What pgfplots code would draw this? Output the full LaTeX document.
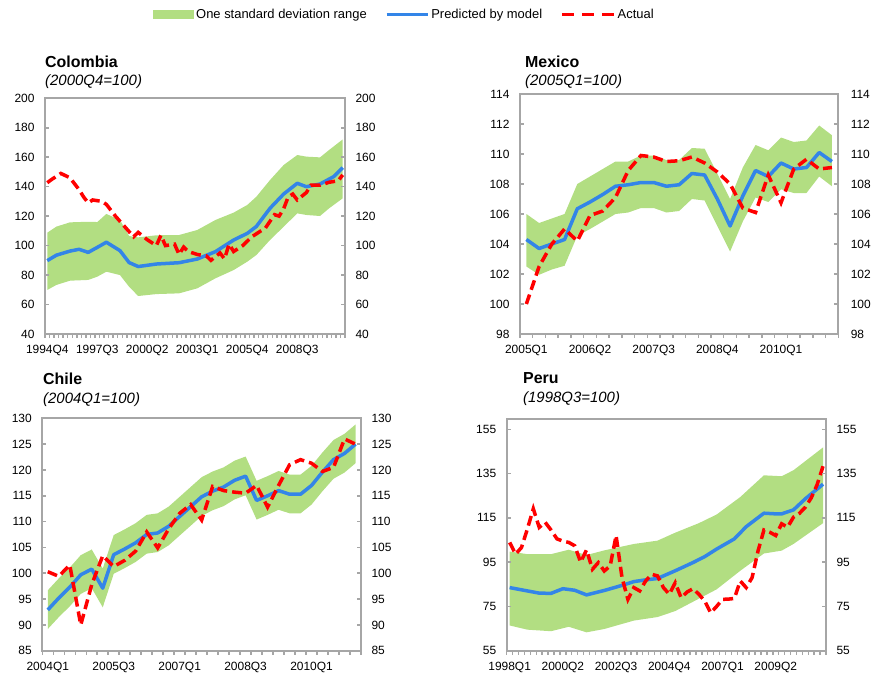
\documentclass[border=0pt]{standalone}
\usepackage{fontspec}
\setmainfont{Liberation Sans}
\usepackage{pgfplots}
\pgfplotsset{compat=1.18}
\usepackage{pgfplotstable}
\definecolor{bandgreen}{RGB}{178,222,130}
\definecolor{predblue}{RGB}{51,133,232}
\definecolor{actred}{RGB}{255,0,0}
\definecolor{framegray}{RGB}{166,166,166}

\pgfplotsset{
  base/.style={scale only axis, clip=true,
    axis line style={framegray, line width=2bp},
    tick style={framegray, line width=1.5bp},
    /pgf/number format/assume math mode=true,
    tick label style={font=\fontsize{12}{12}\selectfont, text=black},
  },
  mainax/.style={base,
    tick align=outside, major tick length=0pt, minor tick length=4bp,
    xtick pos=left, ytick pos=left,
    yticklabel style={xshift=-7bp},
    xticklabel style={yshift=-8bp},
  },
  rightax/.style={base, hide x axis,
    tick align=inside, major tick length=4bp,
    ytick pos=both, yticklabel pos=right,
    yticklabel style={xshift=7bp},
  },
  band/.style={fill=bandgreen, draw=none},
  pred/.style={predblue, line width=3.5bp, line join=round},
  act/.style={actred, line width=3.5bp, dash pattern=on 10bp off 5bp},
  legband/.style={legend image code/.code={\fill[bandgreen] (0bp,-4.5bp) rectangle (41bp,4.5bp);}},
  legpred/.style={legend image code/.code={\draw[predblue, line width=3.5bp] (0bp,0bp) -- (41bp,0bp);}},
  legact/.style={legend image code/.code={\draw[actred, line width=3.5bp, dash pattern=on 12bp off 8bp] (0bp,0bp) -- (52bp,0bp);}},
}

% ---------------- Colombia ----------------
\pgfplotstableread{
i p
0 89.8
2 93.5
5 96.3
7 97.5
9 95.4
11 98.8
13 102.3
16 96.6
18 88.5
20 85.8
24 87.5
29 88.4
33 90.9
37 95.9
41 103.8
44 108.3
46 113.0
49 125.3
52 135.0
55 142.3
57 140.0
60 141.8
63 146.8
65 152.9
}\colpred
% band: upper edge left to right, then lower edge right to left
\pgfplotstableread{
i b
0 108.8
2 112.9
5 115.8
9 116.2
11 116.0
13 121.5
16 117.4
18 106.5
20 105.6
24 107.0
29 107.2
33 110.6
37 117.4
41 122.4
44 127.6
46 133.2
49 144.5
52 154.7
55 161.5
57 160.4
60 159.9
62 164.9
65 172.1
65 132.1
62 125.3
60 120.1
57 120.8
55 121.9
52 112.8
49 103.8
46 93.6
44 89.1
41 83.4
37 77.8
33 71.0
29 67.6
24 67.1
20 65.8
18 72.1
16 80.0
13 82.3
11 78.9
9 76.7
5 76.2
2 73.3
0 69.9
}\colband
\pgfplotstableread{
i a
0 142.7
1 145
3 149
5 146
7 138
8 133
9 129
10 131
12 130
13 128
15 120
17 113
19 106
20 109
22 104
23 102
24 100
25 107
26 100
28 101
29 94
30 99
31 96
33 94
35 93
36 90
38 95
39 91
40 101
41 96
43 100
45 106
47 110
48 112
50 121
51 120
52 125
53 133
54 135
55 131
57 136
58 141
60 141
62 143
64 144
65 148
}\colact

% ---------------- Mexico ----------------
\pgfplotstableread{
i p a
0 104.3 100.0
1 103.7 102.5
2 104.0 104.0
3 104.3 105.0
4 106.35 104.2
5 106.8 105.9
6 107.3 106.2
7 107.85 107.1
8 107.95 108.9
9 108.1 109.9
10 108.1 109.8
11 107.85 109.5
12 107.95 109.55
13 108.7 109.8
14 108.6 109.4
15 107.0 108.8
16 105.2 108.0
17 107.2 106.4
18 108.9 106.1
19 108.5 108.6
20 109.4 106.75
21 109.0 109.0
22 109.1 109.65
23 110.1 109.0
24 109.5 109.1
}\mex
\pgfplotstableread{
i b
0 106.0
1 105.4
2 105.7
3 106.0
4 108.0
5 108.5
6 109.0
7 109.5
8 109.5
9 109.9
10 109.9
11 109.6
12 109.6
13 110.4
14 110.35
15 108.7
16 107.0
17 109.1
18 110.6
19 110.25
20 111.1
21 110.8
22 110.9
23 111.9
24 111.25
24 107.85
23 108.5
22 107.4
21 107.4
20 107.65
19 106.8
18 107.1
17 105.5
16 103.5
15 105.2
14 106.9
13 107.0
12 106.2
11 106.1
10 106.4
9 106.4
8 106.1
7 106.0
6 105.5
5 105.0
4 104.55
3 102.55
2 102.3
1 101.95
0 102.5
}\mexband

% ---------------- Chile ----------------
\pgfplotstableread{
i p a
0 92.9 100.3
1 95.2 99.4
2 97.3 101.6
3 99.7 90.0
4 100.8 97.8
5 97.1 103.4
6 103.6 101.3
7 104.7 102.5
8 105.9 104.3
9 107.5 108.0
10 107.8 104.9
11 109.1 108.6
12 111.0 111.6
13 112.9 113.3
14 114.8 110.3
15 115.9 116.8
16 116.7 116.0
17 118.0 115.7
18 118.8 115.5
19 114.1 117.0
20 115.0 112.8
21 116.0 117.0
22 115.3 121.0
23 115.3 122.0
24 117.0 121.3
25 119.6 119.7
26 122.0 120.5
27 123.2 126.0
28 125.0 125.0
}\chl
\pgfplotstableread{
i b
0 96.7
1 99.0
2 101.1
3 103.5
4 104.6
5 100.9
6 107.4
7 108.5
8 109.7
9 111.3
10 111.6
11 112.9
12 114.8
13 116.7
14 118.6
15 119.7
16 120.5
17 121.8
18 122.6
19 117.9
20 118.8
21 119.8
22 119.1
23 119.1
24 120.8
25 123.4
26 125.8
27 127.0
28 128.8
28 121.3
27 119.5
26 118.3
25 115.9
24 113.3
23 111.6
22 111.6
21 112.3
20 111.3
19 110.4
18 115.1
17 114.3
16 113.0
15 112.2
14 111.1
13 109.2
12 107.3
11 105.4
10 104.1
9 103.8
8 102.2
7 101.0
6 99.9
5 93.4
4 97.1
3 96.0
2 93.6
1 91.5
0 89.2
}\chlband

% ---------------- Peru ----------------
\pgfplotstableread{
i p
0 83.5
3 82.0
5 81.0
7 80.9
9 83.0
11 82.3
13 80.2
16 82.2
19 84.5
21 86.2
23 87.0
25 87.6
28 91.1
31 94.8
33 97.5
35 100.9
38 105.5
40 111.0
43 117.1
45 116.8
46 116.8
48 118.6
50 123.6
53 130.2
}\perpred
\pgfplotstableread{
i b
0 99.8
3 98.6
7 98.6
10 100.6
13 98.2
16 100.3
21 103.2
25 104.7
28 108.3
32 112.6
35 116.5
39 124.4
43 134.2
46 133.8
48 136.5
53 146.8
53 112.6
48 103.2
46 100.2
43 98.9
39 91.1
35 82.7
32 78.5
28 72.9
25 70.2
21 68.6
16 64.8
13 63.3
10 65.8
7 63.8
3 64.5
0 66.4
}\perband
\pgfplotstableread{
i a
0 103.9
1 98.6
2 101.6
3 110.0
4 119.1
5 110.7
6 113.0
7 109.5
8 105.5
9 104.5
10 103.9
11 102.4
12 95.0
13 100.5
14 91.8
15 94.8
16 91.0
17 93.3
18 107.0
19 88.0
20 78.2
21 83.5
22 82.0
23 86.5
24 89.5
25 88.8
26 83.5
27 80.5
28 85.7
29 78.9
30 81.5
31 83.0
32 80.5
33 77.4
34 72.1
35 75.0
36 78.2
37 78.3
38 78.6
39 86.5
40 83.5
41 88.0
42 100.0
43 109.5
44 108.5
45 107.0
46 112.3
47 110.8
48 115.3
49 117.0
50 119.8
51 124.0
52 130.0
53 138.3
}\peract

\begin{document}
\begin{tikzpicture}
\useasboundingbox (0bp,0bp) rectangle (875bp,-677bp);

% ---------- Colombia ----------
\begin{axis}[mainax, at={(45bp,-334bp)}, anchor=south west,
  width=300bp, height=235.7bp,
  xmin=-0.5, xmax=65.5, ymin=40, ymax=200, ytick={40,60,...,200},
  xtick={0,11,22,33,44,55},
  xticklabels={1994Q4,1997Q3,2000Q2,2003Q1,2005Q4,2008Q3},
  minor xtick={-0.5,0.5,...,65.5},
  legend columns=3,
  legend style={draw=none, fill=none, at={(0.36,1.355)}, anchor=west,
    font=\fontsize{13}{13}\selectfont, inner sep=0pt,
    /tikz/every even column/.append style={column sep=16bp}},
  legend cell align=left]
\addplot[band, legband] table[x=i,y=b] {\colband};
\addlegendentry{One standard deviation range}
\addplot[pred, legpred] table[x=i,y=p] {\colpred};
\addlegendentry{Predicted by model}
\addplot[act, legact] table[x=i,y=a] {\colact};
\addlegendentry{Actual}
\end{axis}
\begin{axis}[rightax, at={(45bp,-334bp)}, anchor=south west,
  width=300bp, height=235.7bp,
  xmin=-0.5, xmax=65.5, ymin=40, ymax=200, ytick={40,60,...,200}]
\addplot[draw=none] table[x=i,y=p] {\colpred};
\end{axis}
\node[anchor=base west, inner sep=0, font=\fontsize{16}{16}\selectfont\bfseries] at (45bp,-67.5bp) {Colombia};
\node[anchor=base west, inner sep=0, font=\fontsize{15}{15}\selectfont\itshape] at (45bp,-85bp) {(2000Q4=100)};

% ---------- Mexico ----------
\begin{axis}[mainax, at={(520bp,-334bp)}, anchor=south west,
  width=318.3bp, height=240bp,
  xmin=-0.5, xmax=24.5, ymin=98, ymax=114, ytick={98,100,...,114},
  xtick={0,5,10,15,20},
  xticklabels={2005Q1,2006Q2,2007Q3,2008Q4,2010Q1},
  minor xtick={-0.5,0.5,...,24.5}]
\addplot[band] table[x=i,y=b] {\mexband};
\addplot[pred] table[x=i,y=p] {\mex};
\addplot[act] table[x=i,y=a] {\mex};
\end{axis}
\begin{axis}[rightax, at={(520bp,-334bp)}, anchor=south west,
  width=318.3bp, height=240bp,
  xmin=-0.5, xmax=24.5, ymin=98, ymax=114, ytick={98,100,...,114},
  yticklabel style={xshift=2bp}]
\addplot[draw=none] table[x=i,y=p] {\mex};
\end{axis}
\node[anchor=base west, inner sep=0, font=\fontsize{16}{16}\selectfont\bfseries] at (525bp,-67.5bp) {Mexico};
\node[anchor=base west, inner sep=0, font=\fontsize{15}{15}\selectfont\itshape] at (525bp,-85bp) {(2005Q1=100)};

% ---------- Chile ----------
\begin{axis}[mainax, at={(42.3bp,-650.7bp)}, anchor=south west,
  width=318.7bp, height=232.4bp,
  xmin=-0.5, xmax=28.5, ymin=85, ymax=130, ytick={85,90,...,130},
  xtick={0,6,12,18,24},
  xticklabels={2004Q1,2005Q3,2007Q1,2008Q3,2010Q1},
  minor xtick={-0.5,0.5,...,28.5}]
\addplot[band] table[x=i,y=b] {\chlband};
\addplot[pred] table[x=i,y=p] {\chl};
\addplot[act] table[x=i,y=a] {\chl};
\end{axis}
\begin{axis}[rightax, at={(42.3bp,-650.7bp)}, anchor=south west,
  width=318.7bp, height=232.4bp,
  xmin=-0.5, xmax=28.5, ymin=85, ymax=130, ytick={85,90,...,130}]
\addplot[draw=none] table[x=i,y=p] {\chl};
\end{axis}
\node[anchor=base west, inner sep=0, font=\fontsize{16}{16}\selectfont\bfseries] at (43bp,-384bp) {Chile};
\node[anchor=base west, inner sep=0, font=\fontsize{15}{15}\selectfont\itshape] at (43bp,-403bp) {(2004Q1=100)};

% ---------- Peru ----------
\begin{axis}[mainax, at={(506.7bp,-650.7bp)}, anchor=south west,
  width=319.3bp, height=231.4bp,
  xmin=-0.5, xmax=53.5, ymin=55, ymax=159.5, ytick={55,75,...,155},
  xtick={0,9,18,27,36,45},
  xticklabels={1998Q1,2000Q2,2002Q3,2004Q4,2007Q1,2009Q2},
  minor xtick={-0.5,0.5,...,53.5}]
\addplot[band] table[x=i,y=b] {\perband};
\addplot[pred] table[x=i,y=p] {\perpred};
\addplot[act] table[x=i,y=a] {\peract};
\end{axis}
\begin{axis}[rightax, at={(506.7bp,-650.7bp)}, anchor=south west,
  width=319.3bp, height=231.4bp,
  xmin=-0.5, xmax=53.5, ymin=55, ymax=159.5, ytick={55,75,...,155}]
\addplot[draw=none] table[x=i,y=p] {\perpred};
\end{axis}
\node[anchor=base west, inner sep=0, font=\fontsize{16}{16}\selectfont\bfseries] at (523bp,-383bp) {Peru};
\node[anchor=base west, inner sep=0, font=\fontsize{15}{15}\selectfont\itshape] at (523bp,-402bp) {(1998Q3=100)};
\end{tikzpicture}
\end{document}
